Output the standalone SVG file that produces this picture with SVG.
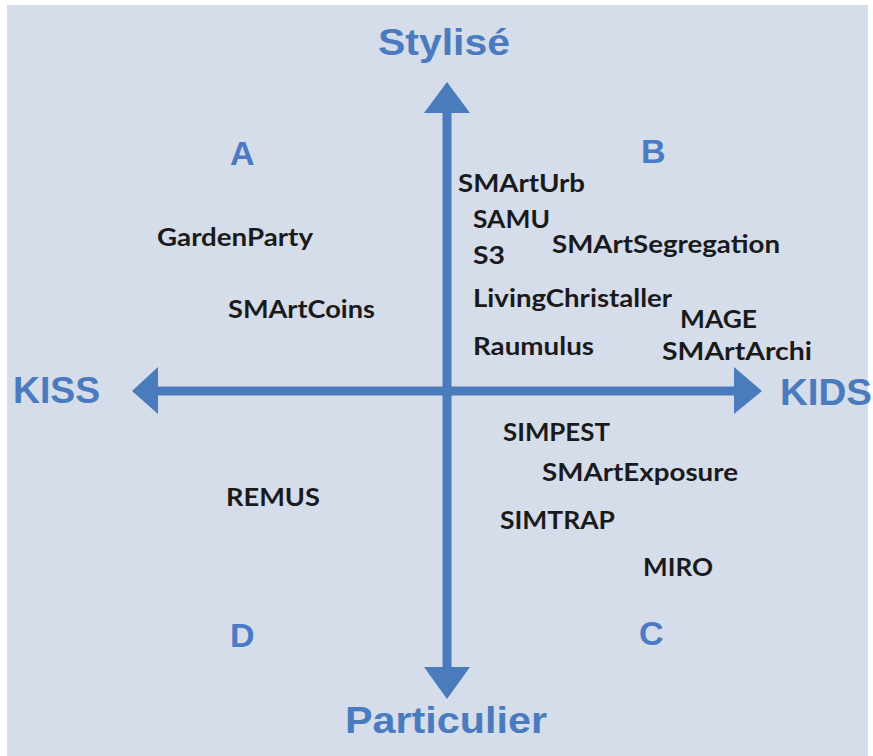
<svg xmlns="http://www.w3.org/2000/svg" width="873" height="756" viewBox="0 0 873 756">
  <style>
    .bg { fill: #d4dde9; }
    .axis { fill: #4a7bbd; }
    .title { font-family: "Liberation Sans", Arial, sans-serif; font-weight: bold; fill: #4a7bbf; font-size: 37px; }
    .quad { font-family: "Liberation Sans", Arial, sans-serif; font-weight: bold; fill: #4a7bc4; font-size: 34px; }
    .lbl { font-family: Lato, "Open Sans", sans-serif; font-weight: bold; fill: #1a1a1c; font-size: 24px; }
  </style>
  <rect x="0" y="0" width="873" height="756" fill="#ffffff"/>
  <rect class="bg" x="7" y="5" width="861" height="751"/>

  <g id="connectors">
    <g id="axis-vertical">
      <rect class="axis" x="442.5" y="110" width="9" height="560"/>
      <polygon class="axis" points="447,82 470,113 424,113"/>
      <polygon class="axis" points="447,699 470,667 424,667"/>
    </g>
    <g id="axis-horizontal">
      <rect class="axis" x="154" y="386.5" width="582" height="9"/>
      <polygon class="axis" points="132,391 158,367 158,414"/>
      <polygon class="axis" points="762,391 734,367 734,414"/>
    </g>
  </g>

  <g id="axis-labels">
    <g id="stylise"><text class="title" x="378" y="55" textLength="132" lengthAdjust="spacingAndGlyphs">Stylisé</text></g>
    <g id="particulier"><text class="title" x="345" y="733" textLength="202" lengthAdjust="spacingAndGlyphs">Particulier</text></g>
    <g id="kiss"><text class="title" x="13" y="403" textLength="87" lengthAdjust="spacingAndGlyphs">KISS</text></g>
    <g id="kids"><text class="title" x="780" y="405" textLength="92" lengthAdjust="spacingAndGlyphs">KIDS</text></g>
  </g>

  <g id="quadrants">
    <g id="quad-A"><text class="quad" x="230" y="165">A</text></g>
    <g id="quad-B"><text class="quad" x="641" y="163">B</text></g>
    <g id="quad-C"><text class="quad" x="639" y="645">C</text></g>
    <g id="quad-D"><text class="quad" x="230" y="647">D</text></g>
  </g>

  <g id="models">
    <g id="GardenParty"><text class="lbl" x="157" y="246" textLength="156" lengthAdjust="spacingAndGlyphs">GardenParty</text></g>
    <g id="SMArtCoins"><text class="lbl" x="228" y="318" textLength="147" lengthAdjust="spacingAndGlyphs">SMArtCoins</text></g>
    <g id="SMArtUrb"><text class="lbl" x="458" y="192" textLength="127" lengthAdjust="spacingAndGlyphs">SMArtUrb</text></g>
    <g id="SAMU"><text class="lbl" x="473" y="228" textLength="77" lengthAdjust="spacingAndGlyphs">SAMU</text></g>
    <g id="S3"><text class="lbl" x="473" y="264" textLength="32" lengthAdjust="spacingAndGlyphs">S3</text></g>
    <g id="SMArtSegregation"><text class="lbl" x="552" y="253" textLength="228" lengthAdjust="spacingAndGlyphs">SMArtSegregation</text></g>
    <g id="LivingChristaller"><text class="lbl" x="473" y="307" textLength="199" lengthAdjust="spacingAndGlyphs">LivingChristaller</text></g>
    <g id="MAGE"><text class="lbl" x="680" y="328" textLength="77" lengthAdjust="spacingAndGlyphs">MAGE</text></g>
    <g id="Raumulus"><text class="lbl" x="473" y="355" textLength="121" lengthAdjust="spacingAndGlyphs">Raumulus</text></g>
    <g id="SMArtArchi"><text class="lbl" x="662" y="360" textLength="150" lengthAdjust="spacingAndGlyphs">SMArtArchi</text></g>
    <g id="SIMPEST"><text class="lbl" x="503" y="441" textLength="107" lengthAdjust="spacingAndGlyphs">SIMPEST</text></g>
    <g id="SMArtExposure"><text class="lbl" x="542" y="481" textLength="196" lengthAdjust="spacingAndGlyphs">SMArtExposure</text></g>
    <g id="SIMTRAP"><text class="lbl" x="500" y="529" textLength="115" lengthAdjust="spacingAndGlyphs">SIMTRAP</text></g>
    <g id="MIRO"><text class="lbl" x="643" y="576" textLength="70" lengthAdjust="spacingAndGlyphs">MIRO</text></g>
    <g id="REMUS"><text class="lbl" x="226" y="506" textLength="94" lengthAdjust="spacingAndGlyphs">REMUS</text></g>
  </g>
</svg>
